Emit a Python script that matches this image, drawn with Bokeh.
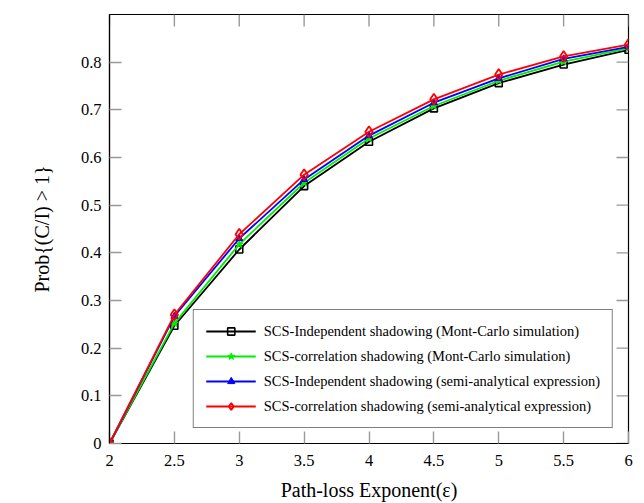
import math
from bokeh.plotting import figure
from bokeh.models import Range1d, FixedTicker, Legend, LegendItem
from bokeh.embed import file_html
from bokeh.resources import INLINE

x_vals = [2, 2.5, 3, 3.5, 4, 4.5, 5, 5.5, 6]
ind_mc = [0, 0.247, 0.407, 0.540, 0.633, 0.703, 0.756, 0.795, 0.826]
cor_mc = [0, 0.252, 0.418, 0.547, 0.640, 0.708, 0.761, 0.801, 0.829]
ind_sa = [0, 0.267, 0.430, 0.554, 0.646, 0.715, 0.766, 0.807, 0.832]
cor_sa = [0, 0.270, 0.439, 0.564, 0.654, 0.722, 0.774, 0.812, 0.837]

labels = [
    "SCS-Independent shadowing (Mont-Carlo simulation)",
    "SCS-correlation shadowing (Mont-Carlo simulation)",
    "SCS-Independent shadowing (semi-analytical expression)",
    "SCS-correlation shadowing (semi-analytical expression)",
]
x_ticks = [2, 2.5, 3, 3.5, 4, 4.5, 5, 5.5, 6]
y_ticks = [0, 0.1, 0.2, 0.3, 0.4, 0.5, 0.6, 0.7, 0.8]
x_min, x_max = 2, 6
y_min, y_max = 0, 0.9

FONT = "Liberation Serif"
TICK_GRAY = "#999999"
TICK_LEN = 12

p = figure(width=644, height=503, output_backend="svg", toolbar_location=None,
           x_range=Range1d(x_min, x_max), y_range=Range1d(y_min, y_max),
           min_border_left=109, min_border_right=16, min_border_top=14, min_border_bottom=58)
p.grid.visible = False
p.outline_line_color = "black"
p.outline_line_width = 1.2

for ax in (p.xaxis[0], p.yaxis[0]):
    ax.major_tick_in = TICK_LEN
    ax.major_tick_out = 0
    ax.minor_tick_in = 0
    ax.minor_tick_out = 0
    ax.major_tick_line_color = TICK_GRAY
    ax.major_tick_line_width = 1.4
    ax.axis_line_color = "black"
    ax.axis_line_width = 1.2
    ax.major_label_text_font = FONT
    ax.major_label_text_font_size = "16.5px"
    ax.major_label_text_color = "black"
    ax.axis_label_text_font = FONT
    ax.axis_label_text_font_style = "normal"
    ax.axis_label_text_font_size = "20px"
    ax.axis_label_text_color = "black"

p.xaxis[0].ticker = FixedTicker(ticks=x_ticks)
p.yaxis[0].ticker = FixedTicker(ticks=y_ticks)
p.xaxis[0].major_label_standoff = 11
p.yaxis[0].major_label_standoff = 8
p.xaxis[0].axis_label = "Path-loss Exponent(\u03b5)"
p.xaxis[0].axis_label_standoff = 10
p.yaxis[0].axis_label = "Prob{(C/I) > 1}"
p.yaxis[0].axis_label_standoff = 25
p.xaxis[0].major_label_overrides = {2: "2", 3: "3", 4: "4", 5: "5", 6: "6"}
p.yaxis[0].major_label_overrides = {0: "0"}

# mirrored inward ticks on top and right edges
p.ray(x=x_ticks, y=[y_max] * len(x_ticks), length=TICK_LEN, length_units="screen",
      angle=-math.pi / 2, line_color=TICK_GRAY, line_width=1.4)
p.ray(x=[x_max] * len(y_ticks), y=y_ticks, length=TICK_LEN, length_units="screen",
      angle=math.pi, line_color=TICK_GRAY, line_width=1.4)

r1l = p.line(x_vals, ind_mc, line_color="black", line_width=1.8)
r1m = p.scatter(x_vals, ind_mc, marker="square", size=7, line_color="black", fill_color=None, line_width=1.6)
r2l = p.line(x_vals, cor_mc, line_color="#00ee00", line_width=1.8)
r2m = p.scatter(x_vals, cor_mc, marker="star", size=8, line_color="#00ee00", fill_color="#00ee00", line_width=1)
r3l = p.line(x_vals, ind_sa, line_color="#0000ff", line_width=1.8)
r3m = p.scatter(x_vals, ind_sa, marker="triangle", size=7, line_color="#0000ff", fill_color="#0000ff", line_width=1)
r4l = p.line(x_vals, cor_sa, line_color="#ff0000", line_width=1.8)
r4m = p.scatter(x_vals, cor_sa, marker="diamond", size=11, line_color="#ff0000", fill_color=None, line_width=1.8)

legend = Legend(items=[
    LegendItem(label=labels[0], renderers=[r1l, r1m]),
    LegendItem(label=labels[1], renderers=[r2l, r2m]),
    LegendItem(label=labels[2], renderers=[r3l, r3m]),
    LegendItem(label=labels[3], renderers=[r4l, r4m]),
], location="bottom_right")
legend.label_text_font = FONT
legend.label_text_font_size = "14.5px"
legend.label_text_color = "black"
legend.border_line_color = "black"
legend.border_line_width = 1.2
legend.margin = 15
legend.padding = 12
legend.spacing = 7
legend.label_height = 18
legend.glyph_height = 18
legend.glyph_width = 50
legend.label_standoff = 8
legend.background_fill_alpha = 1
p.add_layout(legend, "center")

open("out.html", "w").write(file_html(p, INLINE))
